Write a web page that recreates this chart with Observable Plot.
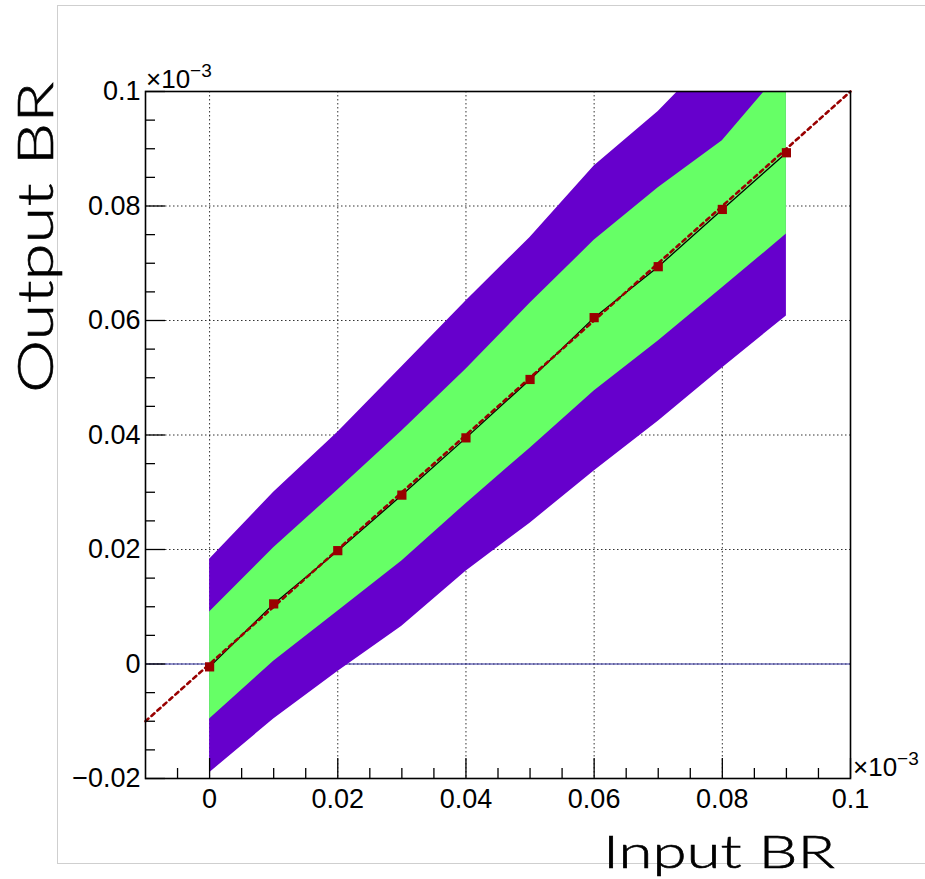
<!DOCTYPE html>
<html><head><meta charset="utf-8">
<script src="https://cdn.jsdelivr.net/npm/d3@7"></script>
<script src="https://cdn.jsdelivr.net/npm/@observablehq/plot@0.6"></script>
<style>
body{margin:0;background:#fff;}
#wrap{position:relative;width:925px;height:879px;overflow:hidden;}
#pad{position:absolute;left:57px;top:5px;width:900px;height:857px;border:1.5px solid #cfcfcf;border-right:none;}
#chart{position:absolute;left:0;top:0;}
</style></head><body>
<div id="wrap"><div id="pad"></div><div id="chart"></div></div>
<script>
// ---- data ----
const inputBR  = [0, 0.01, 0.02, 0.03, 0.04, 0.05, 0.06, 0.07, 0.08, 0.09];
const outputBR = [-0.0005, 0.0105, 0.0198, 0.0295, 0.0395, 0.0497, 0.0605, 0.0694, 0.0794, 0.0893];
const band1Lo  = [-0.0096, 0.0005, 0.0092, 0.0180, 0.0280, 0.0377, 0.0477, 0.0564, 0.0657, 0.0751];
const band1Hi  = [0.0091, 0.0203, 0.0304, 0.0407, 0.0515, 0.0630, 0.0740, 0.0832, 0.0914, 0.1045];
const band2Lo  = [-0.0190, -0.0096, -0.0013, 0.0066, 0.0162, 0.0246, 0.0337, 0.0424, 0.0517, 0.0608];
const band2Hi  = [0.0183, 0.0300, 0.0405, 0.0519, 0.0634, 0.0745, 0.0870, 0.0965, 0.1080, 0.1200];
const diagonal = [-0.01, 0.1];
const xDomain = [-0.01, 0.1];
const yDomain = [-0.02, 0.1];
const xMajor = [0, 0.02, 0.04, 0.06, 0.08, 0.1];
const xMajorLabels = ["0", "0.02", "0.04", "0.06", "0.08", "0.1"];
const xMinor = [-0.005, 0.005, 0.01, 0.015, 0.025, 0.03, 0.035, 0.045, 0.05, 0.055, 0.065, 0.07, 0.075, 0.085, 0.09, 0.095];
const yMajor = [-0.02, 0, 0.02, 0.04, 0.06, 0.08, 0.1];
const yMajorLabels = ["\u22120.02", "0", "0.02", "0.04", "0.06", "0.08", "0.1"];
const yMinor = [-0.015, -0.01, -0.005, 0.005, 0.01, 0.015, 0.025, 0.03, 0.035, 0.045, 0.05, 0.055, 0.065, 0.07, 0.075, 0.085, 0.09, 0.095];
const xTitle = "Input BR";
const yTitle = "Output BR";
const exponent = "\u22123";

const rows = inputBR.map((x, i) => ({x, y: outputBR[i], g1: band1Lo[i], g2: band1Hi[i], p1: band2Lo[i], p2: band2Hi[i]}));
const xLab = new Map(xMajor.map((v, i) => [v, xMajorLabels[i]]));
const yLab = new Map(yMajor.map((v, i) => [v, yMajorLabels[i]]));

const W = 925, H = 879, mL = 145, mT = 91, mR = 75, mB = 101;
const plotW = W - mL - mR, plotH = H - mT - mB;
const tickFont = "'Liberation Sans', Arial, Helvetica, sans-serif";

const chart = Plot.plot({
  width: W, height: H,
  marginLeft: mL, marginTop: mT, marginRight: mR, marginBottom: mB,
  style: {fontFamily: tickFont, background: "transparent", color: "#000", overflow: "visible"},
  x: {domain: xDomain},
  y: {domain: yDomain},
  marks: [
    Plot.gridX(xMajor, {stroke: "#000", strokeOpacity: 0.8, strokeWidth: 1, strokeDasharray: "1.5,2.5"}),
    Plot.gridY(yMajor, {stroke: "#000", strokeOpacity: 0.8, strokeWidth: 1, strokeDasharray: "1.5,2.5"}),
    Plot.ruleY([0], {stroke: "#2a2a9a", strokeWidth: 1.2}),
    Plot.areaY(rows, {x: "x", y1: "p1", y2: "p2", fill: "#6600cc", clip: true}),
    Plot.areaY(rows, {x: "x", y1: "g1", y2: "g2", fill: "#66ff66", clip: true}),
    Plot.line(rows, {x: "x", y: "y", stroke: "#000", strokeWidth: 1.3}),
    Plot.line(diagonal, {x: d => d, y: d => d, stroke: "#990000", strokeWidth: 2.6, strokeDasharray: "4,4"}),
    Plot.dot(rows, {x: "x", y: "y", symbol: "square", r: 5.2, fill: "#990000", stroke: "none"}),
    Plot.tickX(xMajor, {x: d => d, insetTop: plotH - 20, stroke: "#000", strokeWidth: 1.3}),
    Plot.tickX(xMinor, {x: d => d, insetTop: plotH - 10, stroke: "#000", strokeWidth: 1.3}),
    Plot.tickY(yMajor, {y: d => d, insetRight: plotW - 20, stroke: "#000", strokeWidth: 1.3}),
    Plot.tickY(yMinor, {y: d => d, insetRight: plotW - 10, stroke: "#000", strokeWidth: 1.3}),
    Plot.frame({stroke: "#000", strokeWidth: 1.6}),
    Plot.axisX(xMajor, {anchor: "bottom", tickSize: 0, tickPadding: 10, fontSize: 27, label: null, tickFormat: d => xLab.get(d), fontVariant: "normal"}),
    Plot.axisY(yMajor, {anchor: "left", tickSize: 0, tickPadding: 5, fontSize: 27, label: null, tickFormat: d => yLab.get(d), fontVariant: "normal"})
  ]
});
document.getElementById("chart").appendChild(chart);

// titles and exponent labels
const svg = d3.select(chart);
const titleFont = "Lato, 'Open Sans', 'DejaVu Sans', sans-serif";
svg.append("text")
  .attr("x", 603).attr("y", 868)
  .attr("text-anchor", "start")
  .attr("font-family", titleFont).attr("font-weight", 300).attr("font-size", 45).attr("fill", "#000")
  .attr("stroke", "#000").attr("stroke-width", 0.6)
  .attr("textLength", 232).attr("lengthAdjust", "spacingAndGlyphs")
  .text(xTitle);
svg.append("text")
  .attr("transform", "translate(53,393) rotate(-90)")
  .attr("text-anchor", "start")
  .attr("font-family", titleFont).attr("font-weight", 300).attr("font-size", 50).attr("fill", "#000")
  .attr("stroke", "#000").attr("stroke-width", 0.6)
  .attr("textLength", 311).attr("lengthAdjust", "spacingAndGlyphs")
  .text(yTitle);

function expLabel(x, y) {
  const t = svg.append("text").attr("x", x).attr("y", y)
    .attr("text-anchor", "start")
    .attr("font-family", tickFont).attr("font-size", 26).attr("fill", "#000");
  t.append("tspan").text("\u00d710");
  t.append("tspan").attr("font-size", 19).attr("dy", -11).text(exponent);
}
expLabel(146, 88);
expLabel(853, 776);
</script>
</body></html>
